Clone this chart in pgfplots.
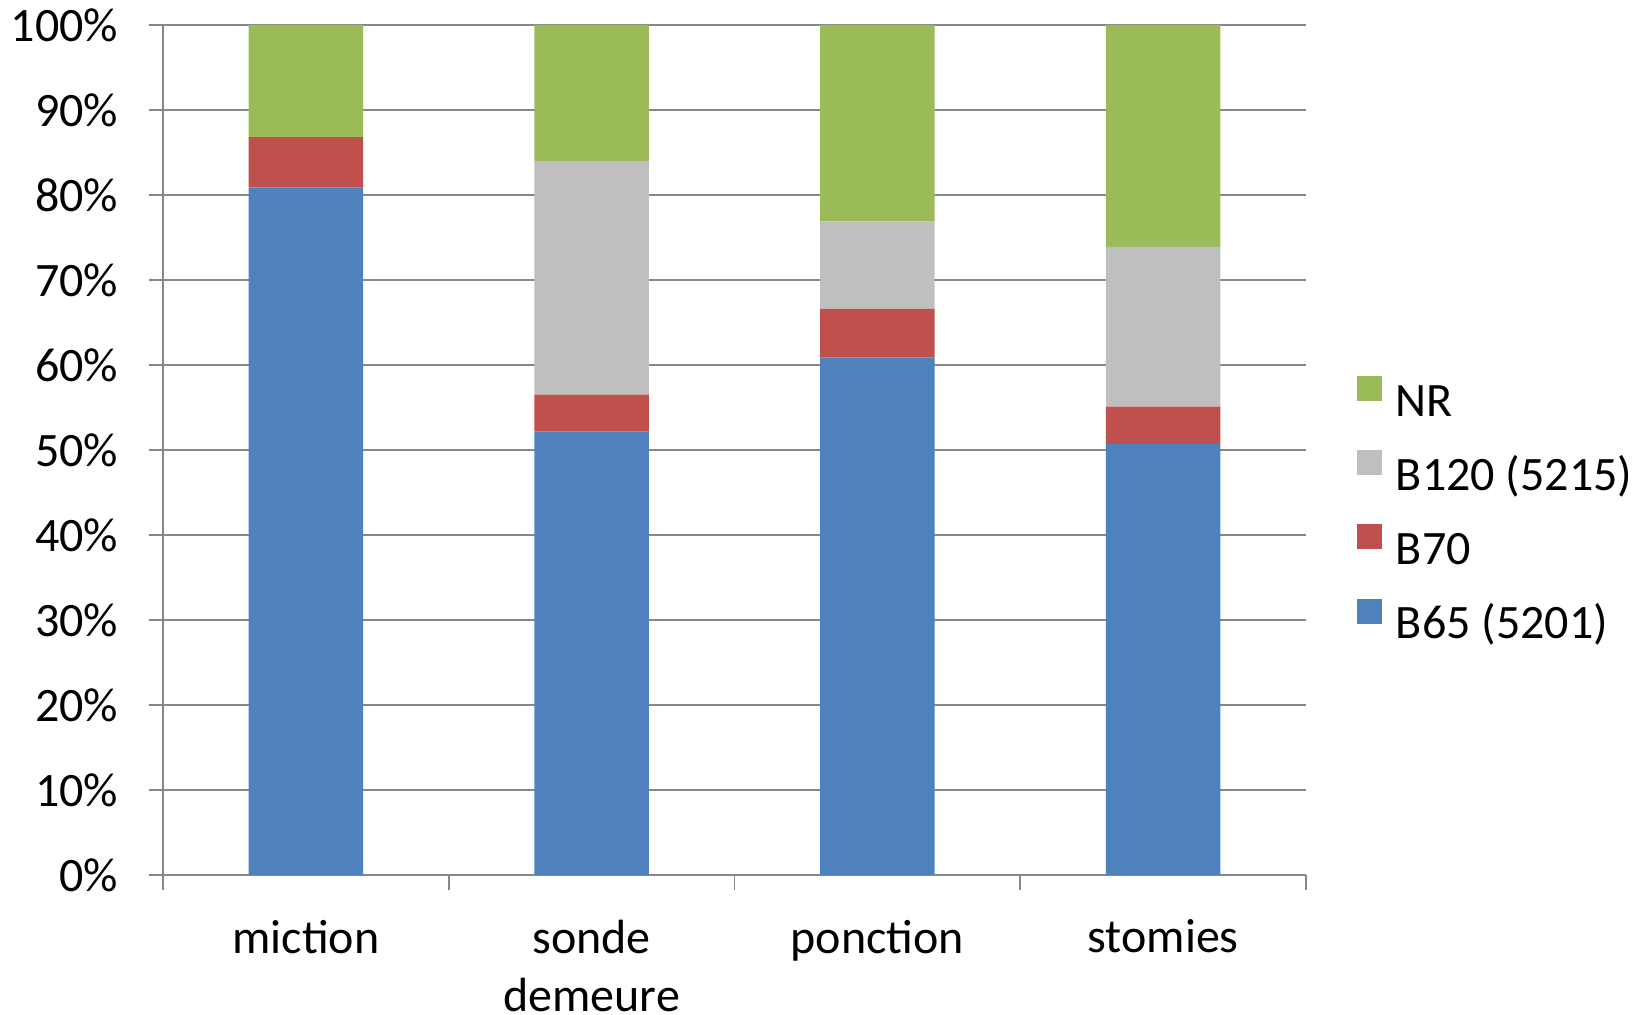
\documentclass[border=0pt]{standalone}
\usepackage{fontspec}
\setmainfont{Carlito}
\usepackage{pgfplots}
\pgfplotsset{compat=1.18}
\definecolor{cB65}{HTML}{4F81BD}
\definecolor{cB70}{HTML}{C0504D}
\definecolor{cB120}{HTML}{BFBFBF}
\definecolor{cNR}{HTML}{9BBB59}
\definecolor{axgray}{HTML}{878787}
\begin{document}
\begin{tikzpicture}
\path[use as bounding box] (0pt,0pt) rectangle (412pt,253.75pt);
\begin{axis}[
  at={(40.75pt,35pt)}, anchor=south west,
  scale only axis, width=285.75pt, height=212.5pt,
  ybar stacked, bar width=28.6pt,
  xmin=-0.5, xmax=3.5, ymin=0, ymax=100,
  axis x line=bottom, axis y line=left,
  axis line style={-, draw=axgray, line width=0.45pt},
  xtick={0,1,2,3},
  xticklabels={miction,{sonde\\demeure},ponction,stomies},
  minor xtick={-0.5,0.5,1.5,2.5,3.5},
  major x tick style={draw=none},
  minor x tick style={draw=axgray, line width=0.45pt},
  minor tick length=3.75pt,
  ytick={0,10,...,100},
  yticklabels={0\%,10\%,20\%,30\%,40\%,50\%,60\%,70\%,80\%,90\%,100\%},
  y tick style={draw=axgray, line width=0.45pt},
  major tick length=3.5pt,
  tick align=outside,
  ymajorgrids,
  grid style={draw=axgray, line width=0.45pt},
  every tick label/.append style={font=\fontsize{12}{14.5}\selectfont, text=black},
  xticklabel style={align=center, yshift=-4.2pt},
  yticklabel style={xshift=-4.2pt},
  legend style={draw=none, fill=none, inner sep=0pt, outer sep=0pt,
    at={(rel axis cs:1.0446,0.4254)}, anchor=west,
    font=\fontsize{12}{14.5}\selectfont,
    nodes={inner sep=0pt, text height=9pt, text depth=3pt},
    row sep=5.5pt, column sep=3.5pt},
  legend cell align=left,
  reverse legend,
  legend image code/.code={\fill[#1] (0pt,0.8pt) rectangle (6.25pt,7.05pt);},
]
\addplot[fill=cB65, draw=none] coordinates {(0,80.9) (1,52.2) (2,60.9) (3,50.7)};
\addplot[fill=cB70, draw=none] coordinates {(0,5.9) (1,4.3) (2,5.7) (3,4.4)};
\addplot[fill=cB120, draw=none] coordinates {(0,0) (1,27.5) (2,10.3) (3,18.8)};
\addplot[fill=cNR, draw=none] coordinates {(0,13.2) (1,16.0) (2,23.1) (3,26.1)};
\legend{B65 (5201),B70,B120 (5215),NR}
\end{axis}
\end{tikzpicture}
\end{document}
